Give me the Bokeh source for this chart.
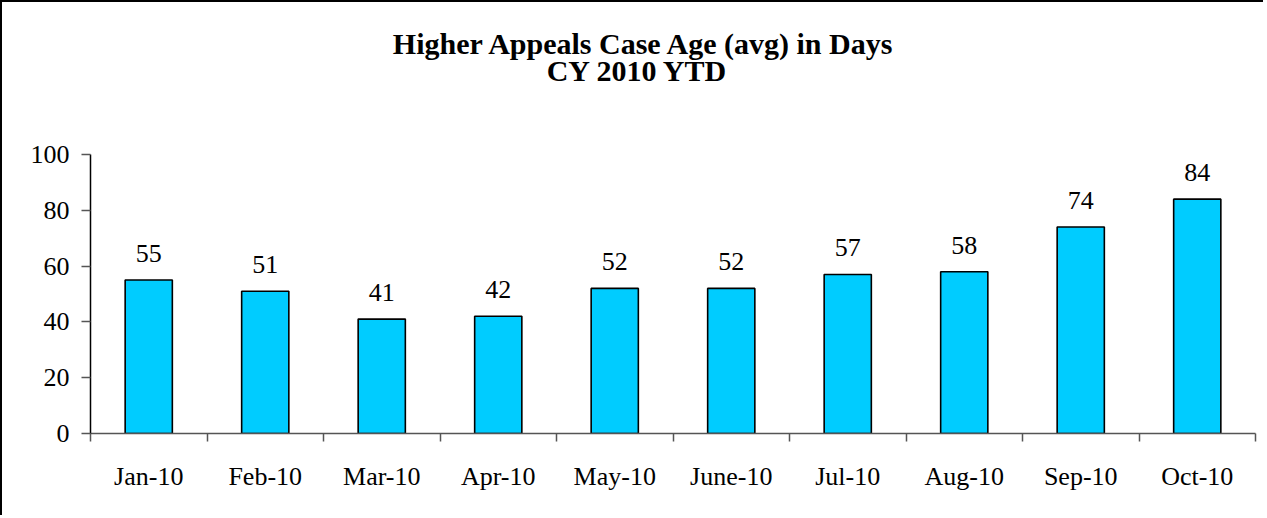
from bokeh.plotting import figure
from bokeh.models import ColumnDataSource, Range1d, FixedTicker, LabelSet, Label
from bokeh.core.properties import value
from bokeh.embed import file_html
from bokeh.resources import INLINE
import numpy as np

months = ["Jan-10", "Feb-10", "Mar-10", "Apr-10", "May-10", "June-10",
          "Jul-10", "Aug-10", "Sep-10", "Oct-10"]
case_age = [55, 51, 41, 42, 52, 52, 57, 58, 74, 84]
title_lines = ["Higher Appeals Case Age (avg) in Days", "CY 2010 YTD"]
y_ticks = [0, 20, 40, 60, 80, 100]

FONT = "Liberation Serif"
n = len(months)
xpos = np.arange(n) + 0.5

src = ColumnDataSource(dict(x=xpos, top=case_age, lab=[str(v) for v in case_age], m=months))

W, H = 1263, 515
BOTTOM = 84
frame_h = H - BOTTOM            # frame runs to the top of the canvas
axis_h = 279                    # pixels for 0..100
y_top = y_ticks[-1] * frame_h / axis_h

p = figure(width=W, height=H, output_backend="svg", toolbar_location=None,
           x_range=Range1d(0, n), y_range=Range1d(0, y_top),
           min_border_left=88, min_border_right=10, min_border_top=0, min_border_bottom=BOTTOM)
p.styles = {"border-top": "2px solid black", "border-left": "2px solid black"}
p.outline_line_color = None
p.grid.visible = False
p.background_fill_color = "white"
p.border_fill_color = "white"
p.title.visible = False

p.vbar(x="x", top="top", width=0.405, bottom=0, source=src,
       fill_color="#00CCFF", line_color="black", line_width=1.6)

labels = LabelSet(x="x", y="top", text="lab", source=src, text_align="center",
                  text_baseline="alphabetic", y_offset=18,
                  text_font=value(FONT), text_font_size=value("26px"), text_color="black")
p.add_layout(labels)

# x axis
xa = p.xaxis[0]
xa.ticker = FixedTicker(ticks=list(xpos), minor_ticks=list(range(n + 1)))
xa.major_label_overrides = {float(x): m for x, m in zip(xpos, months)}
xa.major_tick_line_color = None
xa.major_tick_out = 0
xa.major_tick_in = 0
xa.minor_tick_out = 8
xa.minor_tick_in = 0
xa.minor_tick_line_color = "#555555"
xa.minor_tick_line_width = 1.5
xa.axis_line_color = "#555555"
xa.axis_line_width = 1.5
xa.major_label_standoff = 20
xa.major_label_text_font = FONT
xa.major_label_text_font_size = "26px"
xa.major_label_text_color = "black"

# y axis
ya = p.yaxis[0]
ya.ticker = FixedTicker(ticks=y_ticks, minor_ticks=[])
ya.bounds = (y_ticks[0], y_ticks[-1])
ya.major_tick_out = 9
ya.major_tick_in = 0
ya.major_tick_line_color = "#555555"
ya.major_tick_line_width = 1.5
ya.axis_line_color = "black"
ya.axis_line_width = 1.5
ya.major_label_standoff = 12
ya.major_label_text_font = FONT
ya.major_label_text_font_size = "26px"
ya.major_label_text_color = "black"

# title lines (screen units relative to the frame's bottom-left corner)
for txt, (sx, sy) in zip(title_lines, [(554, frame_h - 41), (547, frame_h - 68)]):
    p.add_layout(Label(x=sx, y=sy, x_units="screen", y_units="screen", text=txt,
                       text_align="center", text_baseline="alphabetic",
                       text_font=FONT, text_font_style="bold", text_font_size="30px",
                       text_color="black"))

open("out.html", "w").write(file_html(p, INLINE))
